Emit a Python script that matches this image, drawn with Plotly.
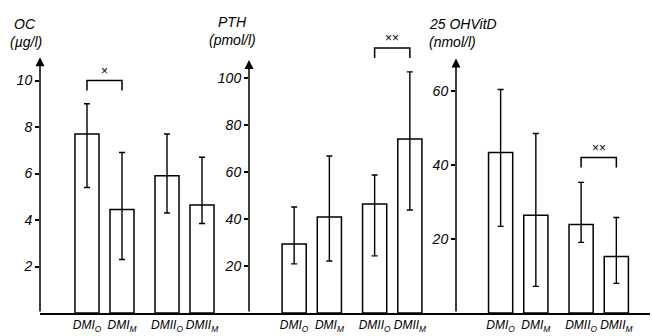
import plotly.graph_objects as go

# ---------------- data ----------------
groups = ["DM I", "DM II"]
subgroups = ["O", "M"]
tick_labels = ["DMI<sub>O</sub>", "DMI<sub>M</sub>", "DMII<sub>O</sub>", "DMII<sub>M</sub>"]

oc_mean = [7.7, 4.45, 5.9, 4.65]
oc_upper = [9.0, 6.9, 7.7, 6.7]
oc_lower = [5.4, 2.3, 4.3, 3.85]

pth_mean = [29.4, 40.9, 46.4, 74.0]
pth_upper = [45.1, 66.8, 58.7, 102.6]
pth_lower = [20.9, 22.1, 24.3, 43.8]

vitd_mean = [43.4, 26.4, 23.9, 15.3]
vitd_upper = [60.4, 48.5, 35.3, 25.8]
vitd_lower = [23.4, 7.2, 19.1, 8.0]

panel_names = ["OC", "PTH", "25 OHVitD"]
panel_units = ["(µg/l)", "(pmol/l)", "(nmol/l)"]
y_ticks = [[2, 4, 6, 8, 10], [20, 40, 60, 80, 100], [20, 40, 60]]
axis_tops = [11.0, 107.7, 68.8]
# significance: (group index, label, bracket height)
significance = [(0, "×", 10.0), (1, "××", 112.8), (1, "××", 42.0)]

# ---------------- layout helpers ----------------
W, H = 652, 336
FONT = "Liberation Sans"
ink = "black"
px_top, px_bot = 30, 313
dom_y = [(H - px_bot) / H, (H - px_top) / H]
x_dom_px = [(40, 249), (249, 456), (456, 650)]
px_per_unit = [23.25, 2.35, 3.7]
x_ranges = [(-0.806, 1.806), (-0.7795, 1.792), (-0.773, 1.637)]
half = 0.219  # half distance between bar centres within a group (category units)

panels = [
    (oc_mean, oc_upper, oc_lower),
    (pth_mean, pth_upper, pth_lower),
    (vitd_mean, vitd_upper, vitd_lower),
]

fig = go.Figure()
annotations = []
shapes = []

for p, (mean, upper, lower) in enumerate(panels):
    xa = "x" if p == 0 else f"x{p + 1}"
    ya = "y" if p == 0 else f"y{p + 1}"
    for s, sub in enumerate(subgroups):
        idx = [g * 2 + s for g in range(len(groups))]
        vals = [mean[i] for i in idx]
        fig.add_trace(go.Bar(
            x=groups, y=vals,
            name=sub, offsetgroup=sub,
            xaxis=xa, yaxis=ya,
            marker=dict(color="white", line=dict(color=ink, width=1.5)),
            error_y=dict(type="data", symmetric=False,
                         array=[upper[i] - mean[i] for i in idx],
                         arrayminus=[mean[i] - lower[i] for i in idx],
                         color=ink, thickness=1.4, width=3),
            showlegend=False, hoverinfo="skip",
        ))
    y_range_top = (px_bot - px_top) / px_per_unit[p]
    d0, d1 = x_dom_px[p]
    xkey = "xaxis" if p == 0 else f"xaxis{p + 1}"
    ykey = "yaxis" if p == 0 else f"yaxis{p + 1}"
    fig.update_layout(**{
        xkey: dict(domain=[d0 / W, d1 / W], anchor=ya, type="category",
                   categoryorder="array", categoryarray=groups,
                   range=list(x_ranges[p]), showgrid=False, zeroline=False,
                   showline=True, linecolor=ink, linewidth=1.5,
                   tickmode="array", automargin=False, tickangle=0,
                   tickvals=[-half, half, 1 - half, 1 + half],
                   ticktext=tick_labels, ticks="",
                   tickfont=dict(family=FONT, size=12, color=ink, style="italic")),
        ykey: dict(domain=dom_y, anchor=xa, range=[0, y_range_top],
                   showgrid=False, zeroline=False, showline=False,
                   tickmode="array", tickvals=y_ticks[p], automargin=False,
                   ticks="outside", ticklen=4, tickwidth=1.5, tickcolor=ink,
                   tickfont=dict(family=FONT, size=14, color=ink, style="italic")),
    })
    # y axis line with arrow
    annotations.append(dict(
        xref=f"{xa} domain", yref=ya, x=0, y=axis_tops[p],
        axref=f"{xa} domain", ayref=ya, ax=0, ay=0,
        showarrow=True, arrowhead=2, arrowsize=1.2, arrowwidth=1.5,
        arrowcolor=ink, text=""))

# significance brackets
for p, (g, label, hgt) in enumerate(significance):
    xa = "x" if p == 0 else f"x{p + 1}"
    ya = "y" if p == 0 else f"y{p + 1}"
    leg = 10 / px_per_unit[p]
    x0, x1 = g - half, g + half
    shapes.append(dict(type="path", xref=xa, yref=ya,
                       path=f"M {x0} {hgt - leg} L {x0} {hgt} L {x1} {hgt} L {x1} {hgt - leg}",
                       line=dict(color=ink, width=1.5)))
    annotations.append(dict(xref=xa, yref=ya, x=g, y=hgt, yshift=1, text=label,
                            showarrow=False, yanchor="bottom",
                            font=dict(family=FONT, size=12, color=ink)))

# axis titles (name line and unit line)
name_pos = [(12, 14), (216, 12), (427, 14)]
unit_pos = [(8, 32), (207, 30), (427, 32)]
for (nx, ny), (ux, uy), nm, un in zip(name_pos, unit_pos, panel_names, panel_units):
    for (tx, ty), t in (((nx, ny), nm), ((ux, uy), un)):
        annotations.append(dict(xref="paper", yref="paper", x=tx / W, y=1 - ty / H,
                                xanchor="left", yanchor="top",
                                text=t, showarrow=False,
                                font=dict(family=FONT, size=14, color=ink, style="italic")))

fig.update_layout(
    width=W, height=H,
    margin=dict(l=0, r=0, t=0, b=0),
    paper_bgcolor="white", plot_bgcolor="white",
    barmode="group", bargap=0.125, bargroupgap=0.314,
    annotations=annotations, shapes=shapes,
    font=dict(family=FONT, color=ink),
    hovermode=False,
)

fig.write_html("out.html", config={"displayModeBar": False},
               post_script="document.body.style.margin='0';document.body.style.overflow='hidden';")
